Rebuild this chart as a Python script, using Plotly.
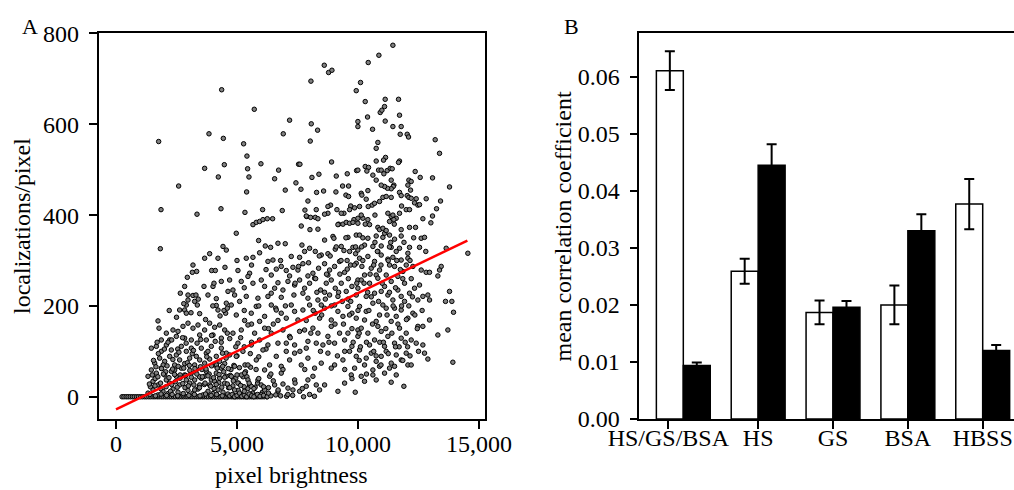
import plotly.graph_objects as go

# ---------------- panel A : scatter ----------------
# (brightness, localizations) pairs

zero_row = [
    (250, 0), (330, 0), (420, 0), (500, 0), (590, 0), (680, 0), (760, 0), (850, 0), (930, 0), (1020, 0),
    (1100, 0), (1190, 0), (1270, 0), (1360, 0), (1440, 0), (1530, 0), (1610, 0), (1700, 0), (1780, 0), (1870, 0),
    (1950, 0), (2040, 0), (2120, 0), (2210, 0), (2290, 0), (2380, 0), (2460, 0), (2550, 0), (2630, 0), (2720, 0),
    (2800, 0), (2890, 0), (2970, 0), (3060, 0), (3140, 0), (3230, 0), (3310, 0), (3400, 0), (3480, 0), (3570, 0),
    (3650, 0), (3740, 0), (3820, 0), (3910, 0), (3990, 0), (4080, 0), (4160, 0), (4250, 0), (4330, 0), (4420, 0),
    (4500, 0), (4590, 0), (4670, 0), (4760, 0), (4840, 0), (4930, 0), (5010, 0), (5100, 0), (5180, 0), (5270, 0),
    (5350, 0), (5440, 0), (5520, 0), (5610, 0), (5690, 0), (5780, 0), (5860, 0), (5950, 0), (6030, 0), (6120, 0),
    (6230, 0),
]

lower_left = [
    (1832, 326), (4421, 331), (4558, 323), (3663, 305), (3870, 315), (4214, 305), (3181, 290), (3333, 276),
    (3154, 274), (2947, 263), (3953, 278), (4104, 278), (4503, 285), (2837, 243), (3636, 243), (4008, 243),
    (4049, 250), (4352, 254), (2658, 228), (2975, 224), (3181, 223), (3305, 224), (2975, 213), (3250, 210),
    (3360, 202), (2906, 202), (2837, 191), (2630, 191), (2906, 184), (4145, 216), (4145, 201), (4214, 191),
    (4558, 206), (4531, 184), (4462, 190), (3457, 183), (3801, 224), (4627, 232),
    (1736, 167), (1777, 151), (2080, 140), (2355, 147), (2562, 144), (2768, 155), (2975, 162), (3181, 151),
    (3388, 158), (3663, 147), (3870, 162), (4076, 153), (4283, 158), (4490, 147), (1873, 125), (2218, 125),
    (2493, 133), (2837, 129), (3112, 125), (3457, 136), (3732, 125), (4008, 136), (4352, 129), (4600, 140),
    (1460, 107), (1667, 111), (1873, 100), (2080, 114), (2286, 103), (2493, 92), (2700, 111), (2906, 100),
    (3112, 107), (3319, 89), (3525, 107), (3732, 96), (3939, 111), (4145, 89), (4352, 107), (4558, 96),
    (1804, 85), (2011, 78), (2218, 89), (2424, 70), (2630, 81), (2837, 73), (3044, 85), (3250, 70),
    (3457, 81), (3663, 74), (3870, 83), (4076, 70), (4283, 78), (4490, 73), (1598, 74),
    (1323, 45), (1460, 59), (1667, 52), (1873, 63), (2080, 37), (2286, 56), (2493, 45), (2700, 63),
    (2906, 37), (3112, 52), (3319, 59), (3525, 41), (3732, 56), (3939, 37), (4145, 52), (4352, 63),
    (4558, 45), (1529, 34), (1736, 26), (2011, 48), (2218, 30), (2424, 59), (2630, 26), (2837, 48),
    (3044, 30), (3250, 37), (3457, 26), (3663, 45), (3870, 26), (4076, 34), (4283, 41), (4490, 30),
    (1323, 8), (1529, 15), (1736, 4), (1942, 12), (2149, 7), (2355, 17), (2562, 10), (2768, 4),
    (2975, 14), (3181, 8), (3388, 17), (3594, 4), (3801, 12), (4008, 7), (4214, 15), (4421, 10), (4627, 4),
    (1420, 22), (1620, 40), (1850, 18), (2050, 55), (2250, 12), (2450, 33), (2650, 48), (2850, 20),
    (3050, 58), (3250, 15), (3450, 44), (3650, 27), (3850, 50), (4050, 18), (4250, 31), (4450, 55),
    (4650, 20), (4850, 40), (5050, 14), (5250, 44), (5450, 18), (5650, 8), (5850, 30), (6050, 10), (6300, 20),
    (1550, 80), (1750, 95), (1950, 70), (2150, 120), (2350, 82), (2550, 105), (2750, 130), (2950, 75),
    (3150, 95), (3350, 118), (3550, 60), (3750, 88), (3950, 135), (4150, 70), (4350, 120), (4550, 85),
    (4750, 60), (4950, 110), (5150, 130), (5350, 55), (5550, 95),
]

# the near-black band just above zero
dense_band = [
    (1400, 5), (1630, 2), (1860, 6), (2090, 3), (2320, 5), (2550, 2), (2780, 7), (3010, 3), (3240, 5),
    (3470, 2), (3700, 6), (3930, 3), (4160, 5), (4390, 2), (4620, 6), (4850, 3), (5080, 5), (5310, 2),
    (5540, 6), (5770, 3), (6000, 5),
    (1380, 28), (1610, 24), (1840, 30), (2070, 22), (2300, 27), (2530, 21), (2760, 29), (2990, 24),
    (3220, 26), (3450, 20), (3680, 30), (3910, 23), (4140, 27), (4370, 21), (4600, 28), (4830, 24),
    (5060, 30), (5290, 22), (5520, 26), (5750, 21),
    (1500, 48), (1730, 44), (1960, 50), (2190, 42), (2420, 49), (2650, 41), (2880, 47), (3110, 43),
    (3340, 50), (3570, 44), (3800, 46), (4030, 42), (4260, 49), (4490, 43), (4720, 47), (4950, 41),
    (5180, 48), (5410, 44),
    (1650, 66), (1880, 62), (2110, 68), (2340, 61), (2570, 67), (2800, 63), (3030, 69), (3260, 62),
    (3490, 66), (3720, 61), (3950, 68), (4180, 63), (4410, 67), (4640, 62), (4870, 69), (5100, 64),
    (5330, 70), (5560, 65), (5790, 60),
    (1700, 120), (2000, 105), (2300, 125), (2600, 98), (2900, 118), (3200, 102), (3500, 126), (3800, 100),
    (4100, 122), (4400, 96), (4700, 128), (5000, 90), (5300, 110), (5600, 120), (5900, 88), (6200, 105),
    (2200, 190), (2500, 175), (2800, 205), (3100, 185), (3400, 215), (3700, 170), (4000, 200), (4300, 178),
    (4600, 195), (5300, 190), (5600, 160), (6300, 150), (6600, 195),
]

middle = [
    (4970, 360), (5893, 344), (6168, 332), (6389, 329), (6692, 338), (6994, 337), (7683, 334), (8000, 327),
    (8619, 345), (8964, 353), (9005, 349), (9308, 331), (9583, 351), (9790, 329), (9927, 356), (7793, 320),
    (7242, 309), (7587, 307), (8234, 320), (8482, 312), (8757, 315), (9060, 325), (9418, 322), (9652, 320),
    (9900, 315),
    (5383, 305), (5659, 307), (5934, 317), (6278, 298), (6485, 301), (6623, 281), (6829, 287), (7036, 278),
    (7311, 285), (7518, 279), (7724, 293), (7958, 295), (8137, 272), (8371, 283), (8619, 293), (8826, 279),
    (9032, 287), (9239, 298), (9446, 274), (9693, 290), (9927, 294), (5039, 278), (5521, 272), (6416, 268),
    (7173, 266), (7545, 287), (7931, 266), (8757, 268), (9556, 281),
    (4695, 257), (5177, 254), (5452, 265), (5659, 250), (6003, 257), (6141, 243), (6416, 228), (6692, 251),
    (6898, 235), (7105, 254), (7380, 246), (7587, 257), (7793, 239), (8000, 250), (8206, 261), (8454, 235),
    (8688, 250), (8895, 257), (9060, 239), (9308, 250), (9514, 232), (9748, 243), (9996, 257), (4901, 224),
    (5383, 221), (5865, 217), (6278, 221), (6829, 219), (7352, 224), (7931, 217), (8344, 213), (8826, 224),
    (9170, 221), (9583, 215), (9927, 224), (4833, 235), (6554, 239), (7724, 228), (8619, 230),
    (4764, 202), (5108, 210), (5590, 184), (5796, 199), (6141, 177), (6416, 202), (6623, 191), (6829, 184),
    (7036, 173), (7242, 202), (7518, 169), (7724, 191), (8000, 202), (8234, 184), (8413, 173), (8619, 195),
    (8895, 169), (9170, 188), (9377, 177), (9583, 199), (9927, 173), (4970, 180), (5315, 168), (5934, 166),
    (6692, 168), (7380, 188), (7862, 168), (8482, 202), (9032, 202), (9748, 184),
    (4833, 140), (5177, 147), (5452, 158), (5728, 140), (5934, 125), (6141, 151), (6416, 140), (6692, 118),
    (6898, 147), (7173, 133), (7380, 114), (7587, 144), (7931, 122), (8137, 151), (8344, 140), (8550, 114),
    (8757, 133), (9032, 118), (9239, 140), (9446, 125), (9748, 111), (9996, 147), (5039, 118), (5590, 114),
    (6278, 114), (7036, 118), (7793, 147), (8275, 118), (8895, 155), (9583, 140),
    (4695, 92), (4970, 89), (5246, 100), (5452, 70), (5796, 81), (6072, 103), (6347, 70), (6623, 89),
    (6829, 67), (7173, 81), (7380, 96), (7655, 70), (7931, 85), (8206, 63), (8482, 74), (8757, 96),
    (9032, 70), (9377, 81), (9652, 100), (9927, 89), (4901, 67), (6141, 59), (7036, 100), (7862, 107),
    (8895, 63), (9859, 63),
    (4764, 45), (5039, 30), (5315, 52), (5590, 23), (5865, 37), (6141, 15), (6347, 45), (6554, 26),
    (6829, 52), (7105, 19), (7380, 37), (7587, 12), (7862, 23), (8137, 45), (8413, 15), (8619, 26),
    (9170, 12), (9446, 30), (9721, 48), (9886, 10), (4901, 15), (5452, 37), (6003, 26), (6692, 12),
    (7311, 15), (7931, 37), (8275, 26),
    (4700, 2), (4800, 5), (4900, 0), (5000, 3), (5100, 8), (5200, 1), (5300, 4), (5400, 0), (5500, 6),
    (5600, 2), (5700, 0), (5850, 5), (5950, 1), (6100, 3), (6250, 0), (6400, 2), (6600, 4), (6800, 2),
    (7050, 1), (7300, 3), (7750, 0), (8000, 5), (8200, 1),
    (4700, 20), (4850, 35), (5000, 48), (5150, 25), (5300, 12), (5500, 30), (5700, 18), (5900, 40),
    (6100, 22), (6300, 8), (6500, 35), (6700, 15), (6900, 28), (7100, 5), (7400, 30), (7700, 18),
    (7000, 200), (7200, 130), (7400, 250), (7600, 100), (6800, 300), (6500, 160), (6200, 280), (5900, 200),
    (5600, 290), (5300, 240), (5000, 300), (7800, 60), (6400, 50), (6900, 60),
]

right_cloud = [
    (10064, 356), (10408, 349), (10752, 354), (11028, 351), (11303, 356), (11510, 347), (11785, 354),
    (10270, 334), (10615, 331), (10959, 332), (11372, 329), (11716, 327), (12129, 329), (12542, 329),
    (12611, 349), (12749, 351), (13644, 327), (9995, 323), (10821, 320), (11579, 320), (12061, 316),
    (14539, 316),
    (10064, 305), (10408, 309), (10684, 298), (10959, 312), (11234, 303), (11441, 307), (11785, 301),
    (12061, 305), (12267, 287), (12611, 279), (12818, 274), (12956, 274), (13300, 266), (13438, 287),
    (13369, 279), (10160, 287), (10546, 283), (10890, 279), (11165, 268), (11510, 287), (11854, 276),
    (11647, 265), (10270, 268), (10752, 268), (11303, 290), (11992, 290),
    (10133, 257), (10477, 250), (10821, 261), (11097, 243), (11372, 254), (11647, 235), (11923, 250),
    (12129, 228), (12336, 239), (12542, 246), (12680, 221), (12887, 224), (12956, 213), (12474, 213),
    (11785, 221), (11234, 224), (10684, 228), (10339, 221), (9995, 239), (10959, 232), (11441, 213),
    (13782, 232), (13616, 210), (13878, 210),
    (10064, 199), (10339, 188), (10615, 206), (10890, 180), (11165, 195), (11372, 166), (11579, 177),
    (11785, 191), (12061, 173), (12267, 184), (12474, 155), (12680, 155), (12956, 169), (13300, 136),
    (13713, 147), (13947, 186), (10270, 169), (10752, 166), (11028, 202), (11510, 195), (11923, 210),
    (10133, 151), (10408, 140), (10684, 125), (10959, 144), (11234, 133), (11510, 118), (11716, 151),
    (11992, 140), (12198, 125), (12405, 118), (12680, 114), (10477, 114), (11097, 111), (11785, 129),
    (9995, 133), (10821, 155),
    (10064, 103), (10339, 85), (10546, 96), (10752, 78), (10959, 89), (11165, 100), (11372, 74),
    (11579, 92), (11785, 81), (11992, 96), (12061, 70), (12198, 70), (12749, 96), (12887, 83),
    (13919, 76), (10270, 70), (10890, 67), (11303, 63), (11510, 67), (10615, 59),
    (10133, 45), (10270, 34), (10615, 48), (11372, 32), (11579, 48), (11895, 23), (10752, 37), (11097, 52),
    (9200, 230), (9400, 160), (9600, 260), (9800, 120), (10000, 190), (10200, 300), (10400, 230),
    (10600, 160), (10800, 320), (11000, 250), (11200, 180), (11400, 140), (11600, 300), (11800, 200),
    (12000, 170), (12200, 260), (9300, 300), (9700, 210), (10100, 110), (10500, 270), (10900, 120),
    (11300, 230), (11700, 110), (12100, 200), (8900, 200), (8700, 270), (8500, 180), (8300, 230),
    (9900, 330), (10700, 340), (11100, 360), (11500, 380), (11900, 340), (10300, 380), (9500, 350),
    (8050, 140), (8250, 260), (8450, 100), (8650, 215), (8850, 310), (9050, 160), (9250, 270), (9450, 100),
    (9650, 180), (9850, 290), (10050, 140), (10250, 250), (10450, 190), (10650, 290), (10850, 210),
    (11050, 120), (11250, 300), (11450, 200), (11650, 160), (11850, 260), (12050, 110), (12250, 220),
    (12450, 150), (12650, 190), (8150, 190), (8400, 310), (8800, 120), (9100, 330), (9350, 210),
    (9550, 300), (9750, 150), (9950, 250), (10150, 330), (10350, 120), (10550, 220), (10750, 90),
    (10950, 290), (11150, 150), (11350, 340), (11550, 240), (11750, 280), (11950, 120), (12150, 300),
    (12350, 180), (9150, 90), (9450, 60), (9750, 40), (10050, 80), (10350, 50), (10650, 100), (10950, 70),
    (11250, 95), (11550, 110), (11850, 80), (12150, 90), (12500, 100),
    (9200, 380), (9700, 420), (10200, 350), (10700, 400), (11300, 330), (11800, 420), (12300, 350),
    (12800, 320),
]

upper = [
    (4366, 676), (3842, 579), (4435, 569), (1763, 562), (4476, 511), (3663, 503), (4228, 484), (2589, 464),
    (1860, 412), (3347, 402), (4338, 414),
    (8606, 730), (8785, 714), (8922, 719), (8055, 695), (9927, 674), (5714, 633), (7173, 609), (8069, 601),
    (8330, 587), (6912, 579), (8027, 563), (5273, 557), (5411, 530), (5989, 513), (7545, 512), (7600, 512),
    (8908, 517), (5438, 502), (6719, 499), (5494, 484), (6554, 480), (8096, 483), (8385, 490), (9101, 486),
    (9556, 491), (9941, 498), (7435, 471), (6994, 455), (7642, 457), (5397, 451), (8289, 450), (8578, 453),
    (9087, 451), (9363, 464), (9611, 464), (7931, 431), (9501, 444), (9611, 441), (5328, 406), (6058, 412),
    (6871, 410), (7807, 411), (8275, 412), (8757, 404), (8867, 422), (9129, 412), (9418, 404), (9652, 412),
    (9859, 416), (5659, 379), (5796, 384), (5934, 386), (6072, 390), (6251, 392), (6471, 392), (7876, 397),
    (8041, 395), (8234, 395), (8344, 392), (8619, 402), (7655, 376), (8014, 368), (8344, 369), (9170, 379),
    (9377, 380), (9514, 384), (9652, 382), (9831, 390), (9996, 393), (7862, 398), (8757, 419), (9308, 404),
    (9790, 384),
    (11441, 774), (10863, 752), (10422, 736), (10105, 692), (11124, 655), (11675, 655), (10298, 650),
    (10918, 626), (10987, 631), (11097, 639), (11716, 620), (10394, 616), (11124, 607), (9995, 606),
    (9995, 595), (10601, 589), (11441, 595), (11785, 595), (11744, 578), (12033, 578), (12088, 572),
    (13190, 566), (13369, 536), (10821, 560), (10752, 547), (11138, 527), (11055, 521), (10752, 519),
    (11716, 519), (11675, 516), (9995, 499), (10298, 507), (10436, 505), (10367, 497), (10849, 499),
    (10959, 499), (11207, 498), (11331, 503), (11413, 502), (11069, 491), (12363, 496), (12570, 483),
    (13079, 482), (13782, 462), (13410, 431), (13245, 414), (13079, 398), (12680, 392), (13011, 383),
    (12102, 477), (12198, 474), (12061, 466), (12171, 455), (11372, 477), (11482, 466), (11455, 463),
    (11372, 458), (11220, 459), (11097, 463), (10959, 466), (10752, 477), (10615, 488), (10133, 448),
    (10160, 444), (10408, 454), (10339, 435), (10422, 419), (10587, 422), (10684, 426), (10890, 430),
    (11028, 439), (11165, 441), (11372, 439), (11716, 450), (11785, 443), (12033, 443), (12102, 439),
    (12198, 437), (12405, 436), (12336, 427), (12474, 422), (12542, 423), (12818, 436), (11992, 412),
    (12129, 412), (11234, 404), (11372, 397), (11441, 400), (11579, 393), (11716, 404), (11303, 386),
    (11482, 390), (10202, 393), (10408, 390), (10477, 379), (10821, 373), (10890, 368), (11028, 371),
    (11165, 366), (11785, 368), (12129, 373), (12377, 373), (10064, 419), (10133, 400), (9995, 382),
]

# least-squares line as drawn (endpoints)
fit_brightness = [0, 14520]
fit_localizations = [-28, 344]

# ---------------- panel B : bars ----------------
categories = ['HS/GS/BSA', 'HS', 'GS', 'BSA', 'HBSS']
group_pos = [0, 1, 2, 3, 4]
white_vals = [0.0611, 0.0259, 0.0187, 0.0200, 0.0377]
white_err = [0.0034, 0.0022, 0.0021, 0.0034, 0.0044]
black_vals = [0.0094, 0.0445, 0.0196, 0.0330, 0.0120]
black_err = [0.0005, 0.0037, 0.0011, 0.0029, 0.0010]

pts = zero_row + lower_left + dense_band + middle + right_cloud + upper
bx = [p[0] for p in pts]
by = [p[1] for p in pts]

FONT = 'Liberation Serif, Times New Roman, serif'
W, H = 1014, 490


def fx(p):
    return p / W


def fy(p):
    return 1 - p / H


fig = go.Figure()

fig.add_trace(go.Scatter(
    x=bx, y=by, mode='markers', xaxis='x', yaxis='y',
    marker=dict(symbol='circle', size=4.5, color='#808080', line=dict(width=1, color='#000')),
    hoverinfo='skip'))
fig.add_trace(go.Scatter(
    x=fit_brightness, y=fit_localizations, mode='lines', xaxis='x', yaxis='y',
    line=dict(color='#ff0000', width=2.5)))

bw = 0.36
fig.add_trace(go.Bar(
    x=group_pos, y=white_vals, width=bw, offset=-bw, xaxis='x2', yaxis='y2',
    marker=dict(color='white', line=dict(color='black', width=1.5)),
    error_y=dict(type='data', array=white_err, color='black', thickness=2, width=5)))
fig.add_trace(go.Bar(
    x=group_pos, y=black_vals, width=bw, offset=0, xaxis='x2', yaxis='y2',
    marker=dict(color='black', line=dict(color='black', width=1.5)),
    error_y=dict(type='data', array=black_err, color='black', thickness=2, width=5)))

axis_style = dict(showline=True, linecolor='black', linewidth=1.5, ticks='outside', ticklen=8,
                  tickwidth=1.5, tickcolor='black', showgrid=False, zeroline=False, automargin=False,
                  tickfont=dict(family=FONT, size=24, color='black'))

y_dom = [fy(419), fy(33)]

fig.update_layout(
    template='none',
    width=W, height=H, margin=dict(l=0, r=0, t=0, b=0, autoexpand=False),
    paper_bgcolor='white', plot_bgcolor='white', showlegend=False, barmode='overlay',
    xaxis=dict(domain=[fx(98.5), fx(484.5)], range=[-723, 15227], tickvals=[0, 5000, 10000, 15000],
               tickformat=',', mirror=True, anchor='y', ticklabelstandoff=-6, **axis_style),
    yaxis=dict(domain=y_dom, range=[-49, 801], tickvals=[0, 200, 400, 600, 800],
               mirror=True, anchor='x', ticklabelstandoff=5, **axis_style),
    xaxis2=dict(domain=[fx(639.3), 1.0], range=[-0.588, 4.418], tickvals=[-0.2, 1, 2, 3, 4],
                ticktext=categories, mirror=True, anchor='y2', ticklabelstandoff=-12, **axis_style),
    yaxis2=dict(domain=y_dom, range=[0, 0.0677], dtick=0.01, tickformat='.2f',
                anchor='x2', ticklabelstandoff=5, **axis_style),
)


def label(text, px, py, size=24, angle=0):
    fig.add_annotation(text=text, x=fx(px), y=fy(py), xref='paper', yref='paper',
                       showarrow=False, textangle=angle, xanchor='center', yanchor='middle',
                       font=dict(family=FONT, size=size, color='black'))


label('A', 30, 27, size=22)
label('B', 571, 27, size=22)
label('localizations/pixel', 22, 226, angle=-90)
label('pixel brightness', 291.5, 475)
label('mean correlation coefficient', 562.5, 227, angle=-90)

# drop the default page margin so the 1014x490 figure fills the window exactly
fig.write_html("out.html", config={'displayModeBar': False},
               post_script="document.body.style.margin='0';document.body.style.overflow='hidden';")
